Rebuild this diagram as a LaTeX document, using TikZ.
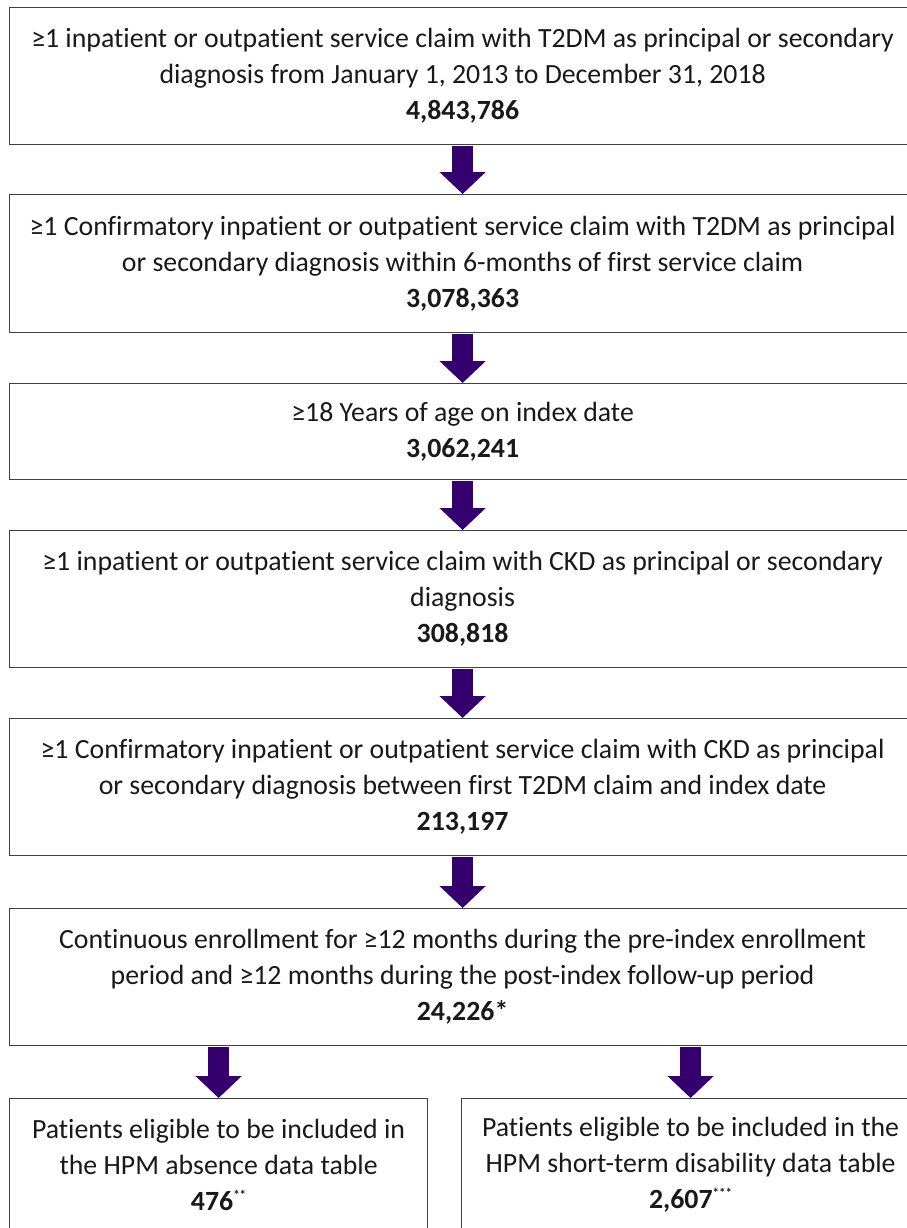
\documentclass[tikz,border=0pt]{standalone}
\usepackage{fontspec}
\setmainfont{Carlito}[Ligatures={NoCommon}]
\usetikzlibrary{arrows.meta}
\definecolor{arrowpurple}{RGB}{53,0,110}
\definecolor{boxline}{RGB}{64,64,64}
\newcommand{\supstar}[1]{\raisebox{0.8ex}{\fontsize{13}{13}\selectfont\bfseries #1}}
\begin{document}
\begin{tikzpicture}[x=1pt,y=-1pt,
  box/.style={draw=boxline, line width=1.2pt, fill=white, align=center, inner sep=0pt,
    font=\fontsize{27.8}{36}\selectfont, anchor=north west, text=black!90},
  fat/.style={draw=arrowpurple, line width=21pt,
    -{Triangle[width=45pt,length=22pt]}, shorten <=0.6pt}]
\useasboundingbox (0,0) rectangle (906,1228);
\node[box, minimum width=906pt, minimum height=137pt] (b1) at (9,7)
  {≥1 inpatient or outpatient service claim with T2DM as principal or secondary\\
   diagnosis from January 1, 2013 to December 31, 2018\\ \textbf{4,843,786}};
\node[box, minimum width=906pt, minimum height=138pt] (b2) at (9,194)
  {≥1 Confirmatory inpatient or outpatient service claim with T2DM as principal\\
   or secondary diagnosis within 6-months of first service claim\\ \textbf{3,078,363}};
\node[box, minimum width=906pt, minimum height=96pt] (b3) at (9,383)
  {≥18 Years of age on index date\\ \textbf{3,062,241}};
\node[box, minimum width=906pt, minimum height=137pt] (b4) at (9,530)
  {≥1 inpatient or outpatient service claim with CKD as principal or secondary\\
   diagnosis\\ \textbf{308,818}};
\node[box, minimum width=906pt, minimum height=137pt] (b5) at (9,718)
  {≥1 Confirmatory inpatient or outpatient service claim with CKD as principal\\
   or secondary diagnosis between first T2DM claim and index date\\ \textbf{213,197}};
\node[box, minimum width=906pt, minimum height=137pt] (b6) at (9,908)
  {Continuous enrollment for ≥12 months during the pre-index enrollment\\
   period and ≥12 months during the post-index follow-up period\\ \textbf{24,226*}};
\node[box, minimum width=418pt, minimum height=132pt] (b7) at (9,1098)
  {Patients eligible to be included in\\ the HPM absence data table\\ \textbf{476}\supstar{**}};
\node[box, minimum width=458pt, minimum height=132pt] (b8) at (461,1098)
  {Patients eligible to be included in the\\ HPM short-term disability data table\\ \textbf{2,607}\supstar{***}};
\draw[fat] (b1.south) -- (b2.north);
\draw[fat] (b2.south) -- (b3.north);
\draw[fat] (b3.south) -- (b4.north);
\draw[fat] (b4.south) -- (b5.north);
\draw[fat] (b5.south) -- (b6.north);
\draw[fat] (b6.south -| b7.north) -- (b7.north);
\draw[fat] (b6.south -| b8.north) -- (b8.north);
\end{tikzpicture}
\end{document}
